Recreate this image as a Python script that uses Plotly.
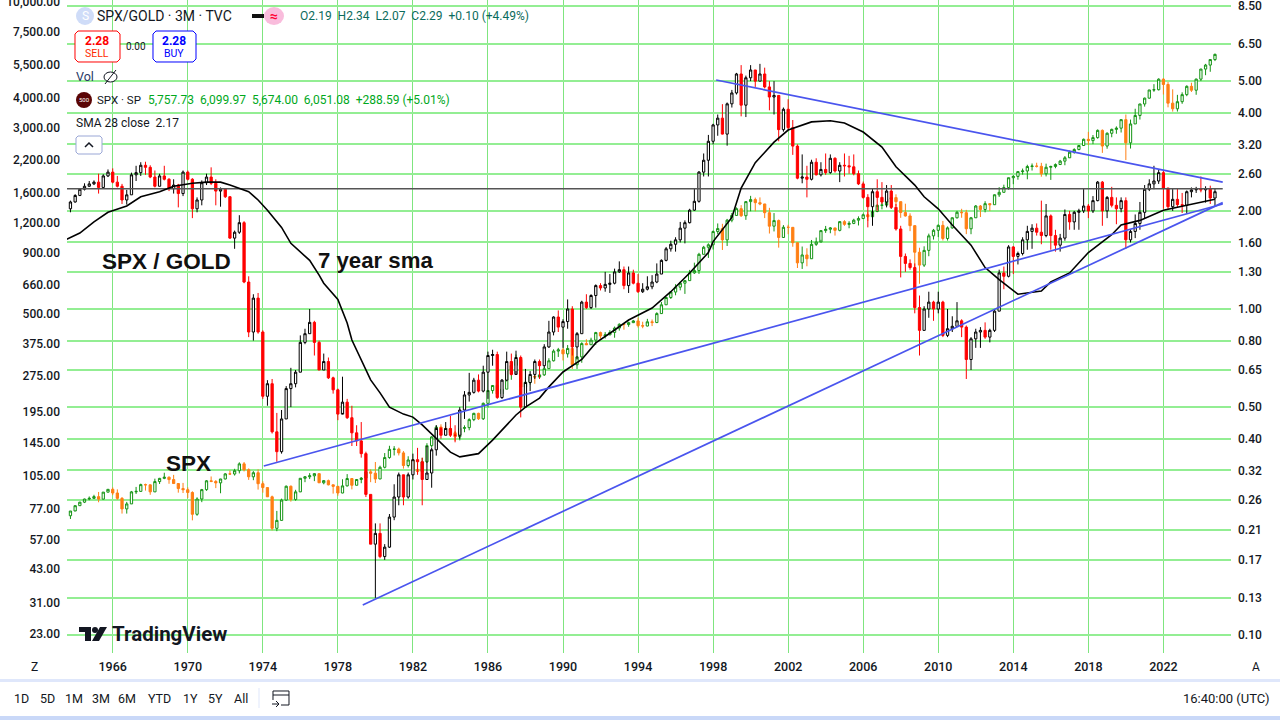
import pandas as pd
import plotly.graph_objects as go

# quarterly bars, 1963 Q4 to 2024 Q4
bar_dates = pd.date_range("1963-10-01", periods=245, freq="QS")

spx_first_open = 71.7
spx_close = [75.02,
    78.98, 81.69, 84.18, 84.75, 86.16, 84.12, 89.96, 92.43, 89.23, 84.74, 76.56, 80.33,
    90.20, 90.64, 96.71, 96.47, 90.20, 99.58, 102.67, 103.86, 101.51, 97.71, 93.12, 92.06,
    89.63, 72.72, 84.21, 92.15, 100.31, 99.70, 98.34, 102.09, 107.20, 107.14, 110.55, 118.05,
    111.52, 104.26, 108.43, 97.55, 93.98, 86.00, 63.54, 68.56, 83.36, 95.19, 83.87, 90.19,
    102.77, 104.28, 105.24, 107.46, 98.42, 100.48, 96.53, 95.10, 89.21, 95.53, 102.54, 96.11,
    101.59, 102.91, 109.32, 107.94, 102.09, 114.24, 125.46, 135.76, 136.00, 131.21, 116.18, 122.55,
    111.96, 109.61, 120.42, 140.64, 152.96, 168.11, 166.07, 164.93, 159.18, 153.18, 166.10, 167.24,
    180.66, 191.85, 182.08, 211.28, 238.90, 250.84, 231.32, 242.17, 291.70, 304.00, 321.83, 247.08,
    258.89, 273.50, 271.91, 277.72, 294.87, 317.98, 349.15, 353.40, 339.94, 358.02, 306.05, 330.22,
    375.22, 371.16, 387.86, 417.09, 403.69, 408.14, 417.80, 435.71, 451.67, 450.53, 458.93, 466.45,
    445.77, 444.27, 462.69, 459.27, 500.71, 544.75, 584.41, 615.93, 645.50, 670.63, 687.31, 740.74,
    757.12, 885.14, 947.28, 970.43, 1101.75, 1133.84, 1017.01, 1229.23, 1286.37, 1372.71, 1282.71, 1469.25,
    1498.58, 1454.60, 1436.51, 1320.28, 1160.33, 1224.42, 1040.94, 1148.08, 1147.39, 989.82, 815.28, 879.82,
    848.18, 974.50, 995.97, 1111.92, 1126.21, 1140.84, 1114.58, 1211.92, 1180.59, 1191.33, 1228.81, 1248.29,
    1294.87, 1270.20, 1335.85, 1418.30, 1420.86, 1503.35, 1526.75, 1468.36, 1322.70, 1280.00, 1166.36, 903.25,
    797.87, 919.32, 1057.08, 1115.10, 1169.43, 1030.71, 1141.20, 1257.64, 1325.83, 1320.64, 1131.42, 1257.60,
    1408.47, 1362.16, 1440.67, 1426.19, 1569.19, 1606.28, 1681.55, 1848.36, 1872.34, 1960.23, 1972.29, 2058.90,
    2067.89, 2063.11, 1920.03, 2043.94, 2059.74, 2098.86, 2168.27, 2238.83, 2362.72, 2423.41, 2519.36, 2673.61,
    2640.87, 2718.37, 2913.98, 2506.85, 2834.40, 2941.76, 2976.74, 3230.78, 2584.59, 3100.29, 3363.00, 3756.07,
    3972.89, 4297.50, 4307.54, 4766.18, 4530.41, 3785.38, 3585.62, 3839.50, 4109.31, 4450.38, 4288.05, 4769.83,
    5254.35, 5460.48, 5757.73, 6051.08]
spx_high = [75.0,
    79.1, 81.9, 84.5, 86.3, 87.7, 90.1, 90.0, 92.6, 94.1, 92.4, 85.8, 81.9,
    91.0, 94.6, 97.6, 97.6, 97.0, 102.4, 103.2, 108.4, 104.6, 106.2, 98.0, 98.3,
    94.2, 90.7, 85.6, 92.8, 101.0, 104.6, 101.0, 102.2, 108.0, 110.7, 112.6, 119.8,
    120.2, 113.0, 110.1, 112.0, 99.8, 94.0, 87.0, 75.1, 84.5, 95.9, 95.9, 92.0,
    103.0, 105.0, 108.0, 107.8, 107.5, 101.0, 101.5, 96.5, 95.5, 101.8, 107.0, 103.0,
    102.0, 104.0, 110.0, 112.0, 120.2, 116.0, 131.0, 140.5, 140.0, 138.0, 133.5, 127.0,
    123.0, 119.0, 125.0, 144.0, 154.0, 171.0, 172.7, 170.4, 169.0, 162.0, 170.0, 171.0,
    183.0, 193.0, 193.0, 213.0, 240.0, 251.0, 254.0, 254.0, 303.0, 306.0, 338.0, 329.0,
    271.0, 275.0, 279.0, 284.0, 300.0, 326.0, 355.0, 360.0, 360.0, 370.0, 370.0, 332.0,
    380.0, 391.0, 397.0, 420.0, 421.0, 419.0, 427.0, 442.0, 456.0, 454.0, 463.0, 471.0,
    482.0, 463.0, 476.0, 473.0, 507.0, 560.0, 586.0, 622.0, 664.0, 680.0, 690.0, 762.0,
    817.0, 898.0, 960.0, 984.0, 1113, 1191, 1187, 1244, 1317, 1390, 1420, 1473,
    1553, 1527, 1530, 1437, 1384, 1316, 1237, 1172, 1176, 1147, 994, 954,
    938, 1016, 1040, 1112, 1163, 1150, 1140, 1217, 1229, 1217, 1246, 1275,
    1310, 1326, 1340, 1431, 1461, 1540, 1576, 1576, 1471, 1440, 1313, 1167,
    943, 956, 1080, 1130, 1180, 1220, 1157, 1263, 1344, 1371, 1357, 1268,
    1422, 1422, 1475, 1449, 1574, 1688, 1729, 1849, 1893, 1968, 2019, 2094,
    2120, 2135, 2133, 2116, 2075, 2121, 2194, 2277, 2401, 2454, 2520, 2695,
    2873, 2787, 2941, 2941, 2860, 2964, 3028, 3248, 3394, 3233, 3588, 3760,
    3994, 4302, 4545, 4808, 4819, 4637, 4325, 4101, 4201, 4494, 4608, 4794,
    5265, 5523, 5768, 6100]
spx_low = [69.5,
    75.4, 78.8, 81.0, 83.2, 84.2, 81.6, 84.0, 89.7, 87.4, 83.6, 73.2, 73.2,
    80.4, 88.4, 90.5, 91.3, 87.7, 90.2, 97.3, 101.9, 97.5, 97.7, 89.5, 89.2,
    85.0, 68.6, 71.7, 81.7, 91.1, 99.0, 93.5, 89.0, 101.7, 106.1, 105.5, 107.7,
    109.8, 101.2, 100.9, 92.2, 89.5, 85.9, 62.3, 61.8, 68.6, 82.8, 82.1, 82.8,
    90.0, 99.0, 102.0, 100.0, 98.2, 97.0, 96.0, 88.7, 86.9, 89.0, 95.0, 92.4,
    96.0, 98.0, 102.0, 99.0, 98.2, 102.0, 113.0, 124.0, 128.0, 128.0, 112.8, 114.0,
    106.0, 107.0, 101.4, 119.0, 138.0, 151.0, 160.0, 160.0, 154.0, 147.0, 148.0, 160.0,
    163.0, 178.0, 180.0, 180.0, 203.0, 232.0, 227.0, 230.0, 242.0, 265.0, 303.0, 216.0,
    243.0, 253.0, 255.0, 270.0, 275.0, 294.0, 316.0, 330.0, 319.0, 328.0, 294.0, 294.0,
    312.0, 370.0, 371.0, 371.0, 394.0, 394.0, 407.0, 397.0, 425.0, 429.0, 441.0, 457.0,
    438.0, 435.0, 443.0, 444.0, 457.0, 500.0, 544.0, 576.0, 597.0, 626.0, 605.0, 685.0,
    733.0, 733.0, 885.0, 855.0, 927, 1074, 923, 959, 1205, 1281, 1268, 1233,
    1339, 1339, 1419, 1254, 1081, 1103, 944, 1038, 1074, 952, 776, 769,
    789, 847, 960, 1018, 1088, 1084, 1060, 1104, 1164, 1137, 1183, 1168,
    1245, 1219, 1224, 1327, 1364, 1416, 1371, 1406, 1257, 1272, 1106, 741,
    667, 784, 869, 1020, 1045, 1011, 1010, 1132, 1249, 1258, 1075, 1074,
    1259, 1267, 1325, 1343, 1426, 1537, 1605, 1647, 1737, 1814, 1905, 1821,
    1981, 2039, 1867, 1872, 1810, 2025, 2088, 2084, 2245, 2329, 2407, 2520,
    2532, 2553, 2691, 2347, 2443, 2728, 2822, 2855, 2192, 2447, 3101, 3234,
    3662, 3955, 4223, 4278, 4115, 3637, 3491, 3492, 3762, 4048, 4217, 4104,
    4683, 4953, 5119, 5674]

ratio_first_open = 2.03
ratio_close = [2.13,
    2.23, 2.33, 2.38, 2.42, 2.45, 2.36, 2.56, 2.63, 2.45, 2.38, 2.16, 2.24,
    2.58, 2.62, 2.76, 2.72, 2.54, 2.38, 2.56, 2.50, 2.34, 2.40, 2.26, 2.63,
    2.50, 2.03, 2.16, 2.44, 2.54, 2.43, 2.30, 2.33, 2.21, 1.65, 1.72, 1.84,
    1.21, .85, 1.08, .85, .54, .59, .42, .365, .46, .57, .59, .64,
    .79, .84, .91, .79, .65, .69, .615, .565, .476, .518, .464, .417,
    .394, .36, .27, .19, .205, .174, .186, .23, .265, .31, .265, .31,
    .345, .34, .30, .314, .37, .43, .41, .43, .41, .41, .49, .545,
    .555, .605, .56, .64, .72, .725, .535, .605, .69, .63, .71, .50,
    .595, .63, .69, .67, .765, .85, .945, .88, .915, 1.0, .765, .84,
    1.05, 1.01, 1.10, 1.18, 1.16, 1.19, 1.20, 1.30, 1.32, 1.18, 1.29, 1.20,
    1.13, 1.15, 1.17, 1.21, 1.28, 1.41, 1.53, 1.58, 1.63, 1.77, 1.84, 2.01,
    2.14, 2.63, 2.86, 3.27, 3.67, 3.85, 3.44, 4.26, 4.6, 5.26, 4.22, 5.12,
    5.41, 5.0, 5.26, 4.8, 4.47, 4.52, 3.55, 4.1, 3.6, 3.16, 2.52, 2.54,
    2.5, 2.82, 2.58, 2.68, 2.62, 2.9, 2.65, 2.76, 2.75, 2.73, 2.6, 2.42,
    2.2, 2.06, 2.29, 2.2, 2.13, 2.3, 2.05, 1.76, 1.45, 1.38, 1.34, 1.01,
    .86, 1.0, 1.05, 1.0, 1.05, .83, .87, .885, .92, .88, .70, .81,
    .85, .86, .82, .86, .985, 1.29, 1.26, 1.55, 1.45, 1.48, 1.63, 1.73,
    1.77, 1.72, 1.68, 1.93, 1.68, 1.57, 1.65, 1.95, 1.85, 1.98, 2.0, 2.07,
    2.0, 2.15, 2.45, 2.0, 2.2, 2.08, 2.03, 2.15, 1.63, 1.73, 1.83, 1.98,
    2.33, 2.42, 2.47, 2.62, 2.35, 2.06, 2.17, 2.09, 2.08, 2.29, 2.32, 2.33,
    2.32, 2.34, 2.19, 2.29]
ratio_high = [2.15,
    2.25, 2.35, 2.43, 2.47, 2.48, 2.60, 2.59, 2.68, 2.70, 2.56, 2.42, 2.32,
    2.62, 2.75, 2.82, 2.83, 2.76, 2.66, 2.60, 2.75, 2.52, 2.50, 2.42, 2.66,
    2.66, 2.52, 2.20, 2.48, 2.60, 2.72, 2.50, 2.36, 2.34, 2.22, 1.74, 1.94,
    1.86, 1.26, 1.11, 1.12, .86, .605, .61, .48, .49, .58, .66, .65,
    .83, .87, 1.0, .92, .80, .73, .71, .62, .57, .62, .53, .505,
    .44, .45, .365, .27, .22, .22, .19, .235, .29, .315, .31, .315,
    .36, .375, .35, .38, .375, .44, .435, .45, .47, .44, .50, .56,
    .637, .615, .63, .67, .74, .75, .74, .61, .74, .73, .745, .72,
    .655, .645, .70, .70, .78, .92, .95, .99, .93, 1.07, 1.02, .85,
    1.06, 1.11, 1.11, 1.19, 1.20, 1.30, 1.28, 1.33, 1.40, 1.35, 1.35, 1.32,
    1.28, 1.20, 1.26, 1.27, 1.38, 1.42, 1.55, 1.62, 1.66, 1.85, 1.87, 2.03,
    2.35, 2.65, 3.0, 3.42, 3.70, 3.95, 4.25, 4.3, 4.7, 5.3, 5.6, 5.2,
    5.6, 5.4, 5.65, 5.5, 5.0, 5.0, 4.4, 4.15, 4.4, 3.8, 3.2, 2.98,
    2.75, 2.87, 2.9, 2.82, 3.0, 2.98, 2.92, 2.82, 3.0, 2.95, 2.98, 2.66,
    2.46, 2.25, 2.34, 2.5, 2.45, 2.4, 2.4, 2.1, 1.80, 1.48, 1.42, 1.38,
    1.1, 1.02, 1.13, 1.06, 1.13, 1.06, 1.0, .95, 1.05, .93, .89, .82,
    .87, .88, .91, .87, 1.0, 1.32, 1.35, 1.57, 1.56, 1.5, 1.66, 1.8,
    1.82, 1.83, 2.15, 2.1, 1.95, 1.75, 1.7, 2.02, 2.0, 2.0, 2.03, 2.35,
    2.1, 2.22, 2.47, 2.47, 2.22, 2.37, 2.2, 2.2, 2.2, 1.76, 1.95, 2.13,
    2.4, 2.5, 2.75, 2.68, 2.65, 2.35, 2.35, 2.35, 2.27, 2.31, 2.36, 2.37,
    2.55, 2.38, 2.39, 2.34]
ratio_low = [1.98,
    2.12, 2.22, 2.31, 2.37, 2.40, 2.26, 2.36, 2.54, 2.43, 2.36, 2.10, 2.09,
    2.24, 2.47, 2.56, 2.58, 2.52, 2.36, 2.38, 2.48, 2.30, 2.26, 2.05, 2.22,
    2.48, 1.90, 1.98, 2.08, 2.40, 2.40, 2.08, 2.06, 2.19, 1.64, 1.53, 1.70,
    1.20, .82, .80, .84, .53, .505, .415, .34, .36, .46, .50, .575,
    .64, .78, .84, .72, .65, .65, .61, .55, .456, .48, .46, .38,
    .38, .35, .265, .19, .13, .172, .17, .185, .225, .25, .25, .262,
    .30, .31, .25, .30, .283, .355, .40, .41, .405, .39, .40, .46,
    .52, .55, .555, .555, .53, .67, .53, .53, .60, .625, .645, .465,
    .50, .56, .61, .61, .66, .76, .83, .85, .76, .87, .72, .70,
    .84, 1.0, 1.0, 1.01, 1.14, 1.13, 1.12, 1.19, 1.29, 1.15, 1.12, 1.19,
    1.12, 1.12, 1.14, 1.15, 1.20, 1.28, 1.40, 1.50, 1.50, 1.60, 1.59, 1.83,
    2.0, 2.12, 2.55, 2.55, 3.2, 3.4, 3.43, 3.17, 4.15, 4.55, 3.9, 3.88,
    5.0, 4.8, 5.0, 4.75, 4.07, 3.95, 3.27, 3.5, 3.55, 2.97, 2.5, 2.43,
    2.2, 2.48, 2.57, 2.55, 2.58, 2.6, 2.62, 2.45, 2.55, 2.6, 2.57, 2.4,
    2.18, 1.78, 1.8, 2.0, 2.1, 2.05, 2.03, 1.74, 1.25, 1.3, 1.32, .97,
    .72, .86, .94, .92, .97, .82, .82, .85, .88, .82, .61, .65,
    .76, .76, .81, .79, .85, .985, 1.15, 1.25, 1.28, 1.37, 1.46, 1.52,
    1.53, 1.68, 1.58, 1.66, 1.52, 1.5, 1.5, 1.62, 1.75, 1.75, 1.75, 1.97,
    1.9, 1.97, 2.14, 1.8, 1.9, 2.05, 1.82, 1.98, 1.53, 1.6, 1.65, 1.75,
    1.9, 2.3, 2.33, 2.42, 2.03, 2.02, 2.0, 2.05, 1.97, 1.96, 2.2, 2.27,
    2.28, 2.12, 2.1, 2.07]

# SMA 28 close
sma_dates = ["1963-07", "1964-04", "1965-01", "1965-10", "1966-10", "1967-07", "1968-07", "1969-04",
    "1970-04", "1971-01", "1971-10", "1972-04", "1973-04", "1973-10", "1974-04", "1975-01", "1975-07",
    "1976-07", "1977-01", "1977-04", "1978-01", "1978-07", "1978-10", "1979-04", "1979-10", "1980-04",
    "1980-10", "1981-07", "1982-01", "1982-07", "1983-04", "1984-01", "1984-07", "1985-07", "1986-04",
    "1986-10", "1987-07", "1988-01", "1988-10", "1989-04", "1990-01", "1991-01", "1991-10", "1992-10",
    "1993-07", "1994-10", "1995-10", "1996-10", "1997-10", "1998-01", "1999-01", "1999-07", "2000-04",
    "2001-04", "2002-01", "2003-04", "2004-04", "2005-01", "2006-01", "2007-01", "2007-10", "2008-10",
    "2009-04", "2010-01", "2010-10", "2011-10", "2012-07", "2013-04", "2014-04", "2015-07", "2016-01",
    "2017-01", "2018-01", "2019-04", "2019-10", "2020-10", "2022-01", "2023-04", "2024-10"]
sma_values = [1.63, 1.71, 1.85, 1.98, 2.07, 2.21, 2.29, 2.38,
    2.43, 2.45, 2.45, 2.40, 2.29, 2.16, 2.01, 1.78, 1.59,
    1.41, 1.27, 1.20, 1.07, .906, .803, .70, .606, .553,
    .50, .476, .466, .441, .402, .364, .352, .36, .396,
    .426, .473, .50, .533, .577, .641, .70, .787, .862,
    .925, 1.007, 1.13, 1.29, 1.49, 1.61, 1.91, 2.35, 2.81,
    3.25, 3.54, 3.75, 3.78, 3.72, 3.49, 3.14, 2.73, 2.40,
    2.21, 2.03, 1.81, 1.57, 1.34, 1.23, 1.11, 1.135, 1.21,
    1.29, 1.49, 1.69, 1.81, 1.87, 2.01, 2.08, 2.17]

# hand drawn lines on the ratio scale
level_dates = ["1963-07-26", "2025-03-01"]
level_values = [2.34, 2.34]
falling_dates = ["1998-03-01", "2025-03-01"]
falling_values = [5.04, 2.45]
rising_a_dates = ["1974-01-20", "2025-03-01"]
rising_a_values = [.33, 2.10]
rising_b_dates = ["1979-05-01", "2025-03-01"]
rising_b_values = [.1236, 2.12]

left_ticks = [23, 31, 43, 57, 77, 105, 145, 195, 275, 375, 500, 660, 900, 1200, 1600, 2200, 3000, 4000,
    5500, 7500, 10000]
right_ticks = [.10, .13, .17, .21, .26, .32, .40, .50, .65, .80, 1.00, 1.30, 1.60, 2.00, 2.60, 3.20, 4.00,
    5.00, 6.50, 8.50]
range_buttons = ["1D", "5D", "1M", "3M", "6M", "YTD", "1Y", "5Y", "All"]
range_button_x = [21, 47, 74, 101, 127, 159, 190, 215, 241]

FONT = "Roboto"
INK = "#131722"
GRID_H = "#93ee93"
GRID_V = "#7fe57f"
BLUE_LINE = "#4a55ee"


def px(x, y):
    return x / 1280, 1 - y / 720


def label(x, y, text, size=12, color=INK, anchor="left", family=FONT):
    fx, fy = px(x, y)
    return dict(x=fx, y=fy, xref="paper", yref="paper", text=text, showarrow=False, xanchor=anchor,
                yanchor="middle", font=dict(size=size, color=color, family=family), borderpad=0, borderwidth=0)


def path_shape(points, close=False, **kwargs):
    d = ""
    for i, (x, y) in enumerate(points):
        fx, fy = px(x, y)
        d += f"{'M' if i == 0 else 'L'}{fx:.5f},{fy:.5f} "
    if close:
        d += "Z"
    return dict(type="path", xref="paper", yref="paper", path=d, **kwargs)


def box_shape(x0, y0, x1, y1, **kwargs):
    fx0, fy0 = px(x0, y0)
    fx1, fy1 = px(x1, y1)
    return dict(type="rect", xref="paper", yref="paper", x0=fx0, y0=fy0, x1=fx1, y1=fy1, **kwargs)


def oval_shape(x0, y0, x1, y1, **kwargs):
    shape = box_shape(x0, y0, x1, y1, **kwargs)
    shape["type"] = "circle"
    return shape


def round_box(x0, y0, x1, y1, r=3, **kwargs):
    corners = [(x0 + r, y0), (x1 - r, y0), (x1, y0 + r), (x1, y1 - r), (x1 - r, y1), (x0 + r, y1), (x0, y1 - r),
               (x0, y0 + r)]
    return path_shape(corners, close=True, **kwargs)


spx_open = [spx_first_open] + spx_close[:-1]
ratio_open = [ratio_first_open] + ratio_close[:-1]

fig = go.Figure()
fig.add_trace(go.Candlestick(
    x=bar_dates, open=spx_open, high=spx_high, low=spx_low, close=spx_close, yaxis="y",
    increasing=dict(line=dict(color="#149414", width=1), fillcolor="#ffffff"),
    decreasing=dict(line=dict(color="#ff7f14", width=1), fillcolor="#ff7f14"),
    whiskerwidth=0,
))
fig.add_trace(go.Candlestick(
    x=bar_dates, open=ratio_open, high=ratio_high, low=ratio_low, close=ratio_close, yaxis="y2",
    increasing=dict(line=dict(color="#000000", width=1), fillcolor="#ffffff"),
    decreasing=dict(line=dict(color="#ff0000", width=1), fillcolor="#ff0000"),
    whiskerwidth=0,
))
fig.add_trace(go.Scatter(x=level_dates, y=level_values, yaxis="y2", mode="lines",
                         line=dict(color="#555555", width=1.5)))
fig.add_trace(go.Scatter(x=sma_dates, y=sma_values, yaxis="y2", mode="lines",
                         line=dict(color="#000000", width=1.6)))
for line_x, line_y in [(falling_dates, falling_values), (rising_a_dates, rising_a_values),
                       (rising_b_dates, rising_b_values)]:
    fig.add_trace(go.Scatter(x=line_x, y=line_y, yaxis="y2", mode="lines",
                             line=dict(color=BLUE_LINE, width=1.7)))

shapes = [
    box_shape(0, 679, 1280, 682, fillcolor="#dfe7fb", line_width=0),
    box_shape(0, 716, 1280, 720, fillcolor="#c9d8f8", line_width=0),
    box_shape(258.5, 688, 259.5, 708, fillcolor="#dfe7fb", line_width=0),
    # order buttons
    round_box(75, 31, 120, 62, fillcolor="#ffffff", line=dict(color="#ff0000", width=1)),
    round_box(153, 31, 196, 62, fillcolor="#ffffff", line=dict(color="#0000ff", width=1)),
    round_box(76, 136, 102, 154, r=2, fillcolor="#ffffff", line=dict(color="#9aa7d6", width=1)),
    path_shape([(85, 147), (89, 143), (93, 147)], line=dict(color=INK, width=1.5)),
    # legend icons
    oval_shape(76, 7, 94, 25, fillcolor="#cfdcf8", line_width=0),
    box_shape(252, 14, 264, 18, fillcolor="#111111", line_width=0),
    oval_shape(264, 7, 284, 25, fillcolor="#f9bcdc", line_width=0),
    oval_shape(76, 92, 92, 108, fillcolor="#5a0505", line_width=0),
    oval_shape(104, 72, 117, 82, fillcolor="#ffffff", line=dict(color=INK, width=1)),
    path_shape([(105, 84), (116, 70)], line=dict(color=INK, width=1)),
    # tradingview logo
    path_shape([(79, 627), (91, 627), (91, 641), (85, 641), (85, 632), (79, 632)], close=True,
               fillcolor="#131722", line_width=0),
    oval_shape(92, 627, 98, 633, fillcolor="#131722", line_width=0),
    path_shape([(100, 627), (107, 627), (99, 641), (92, 641)], close=True, fillcolor="#131722", line_width=0),
    # calendar icon
    path_shape([(273, 700), (273, 691), (289, 691), (289, 705), (281, 705)], line=dict(color=INK, width=1)),
    path_shape([(273, 695), (289, 695)], line=dict(color=INK, width=1)),
    path_shape([(272, 704), (279, 704)], line=dict(color=INK, width=1)),
    path_shape([(276, 701), (279, 704), (276, 707)], line=dict(color=INK, width=1)),
]

annotations = [
    label(85, 16, "S", 12, "#ffffff", "center"),
    label(97, 16, "SPX/GOLD · 3M · TVC", 14),
    label(274, 16, "<b>≈</b>", 14, "#ff0033", "center"),
    label(300, 16, "O2.19&nbsp;&nbsp;H2.34&nbsp;&nbsp;L2.07&nbsp;&nbsp;C2.29&nbsp;&nbsp;+0.10 (+4.49%)", 12, "#0b6b5c"),
    label(97, 41, "<b>2.28</b>", 12, "#ff0000", "center"),
    label(97, 54, "SELL", 10.5, "#ff2a00", "center"),
    label(136, 46, "0.00", 10, INK, "center"),
    label(174, 41, "<b>2.28</b>", 12, "#0000ff", "center"),
    label(174, 54, "BUY", 10.5, "#0000ff", "center"),
    label(76, 77, "Vol", 12.5, "#2a3a66"),
    label(84, 100, "500", 6, "#ffffff", "center"),
    label(97, 100, "SPX · SP", 11.5),
    label(148, 100, "5,757.73&nbsp;&nbsp;6,099.97&nbsp;&nbsp;5,674.00&nbsp;&nbsp;6,051.08&nbsp;&nbsp;+288.59 (+5.01%)", 12, "#00a81c"),
    label(76, 123, "SMA 28 close&nbsp;&nbsp;2.17", 12),
    label(102, 261, "<b>SPX / GOLD</b>", 22.5, "#111111", family="Liberation Sans"),
    label(318, 260, "<b>7 year sma</b>", 22.2, "#111111", family="Liberation Sans"),
    label(166, 463, "<b>SPX</b>", 22.5, "#111111", family="Liberation Sans"),
    label(112, 634, "<b>TradingView</b>", 20.5, "#131722"),
    label(34, 667, "Z", 12, INK, "center"),
    label(1256, 667, "A", 12, INK, "center"),
    label(1270, 698, "16:40:00 (UTC)", 13, INK, "right"),
]
for name, x in zip(range_buttons, range_button_x):
    annotations.append(label(x, 698, name, 12.5, INK, "center"))

fig.update_layout(
    width=1280, height=720,
    margin=dict(l=0, r=0, t=0, b=0, autoexpand=False),
    paper_bgcolor="#ffffff", plot_bgcolor="#ffffff",
    showlegend=False, boxgap=0.3,
    font=dict(family=FONT, size=12, color=INK),
    shapes=shapes, annotations=annotations,
    xaxis=dict(
        domain=[67 / 1280, 1231 / 1280], type="date", range=["1963-07-26", "2025-08-09"],
        rangeslider=dict(visible=False), tick0="1966-01-01", dtick="M48", tickformat="%Y",
        showgrid=True, gridcolor=GRID_V, gridwidth=1.2, zeroline=False, showline=False, ticks="",
        ticklabelstandoff=4, tickfont=dict(size=12.5, color=INK, family=FONT, weight=500),
    ),
    yaxis=dict(
        domain=[67 / 720, 1], type="log", range=[1.2824, 4.0089], side="left", showgrid=False,
        zeroline=False, showline=False, ticks="", tickmode="array", tickvals=left_ticks,
        ticktext=[f"{v:,.2f}" for v in left_ticks], ticklabelstandoff=6, ticklabeloverflow="allow",
        tickfont=dict(size=12, color=INK, family=FONT, weight=500),
    ),
    yaxis2=dict(
        domain=[67 / 720, 1], type="log", range=[-1.0552, 0.9479], side="right", overlaying="y", anchor="x",
        showgrid=True, gridcolor=GRID_H, gridwidth=2, zeroline=False, showline=False, ticks="",
        tickmode="array", tickvals=right_ticks, ticktext=[f"{v:.2f}" for v in right_ticks],
        ticklabelstandoff=6, ticklabeloverflow="allow", tickfont=dict(size=12, color=INK, family=FONT, weight=500),
    ),
)

fig.write_html("out.html", config={"displayModeBar": False},
               post_script="document.body.style.margin='0';document.body.style.overflow='hidden';")
